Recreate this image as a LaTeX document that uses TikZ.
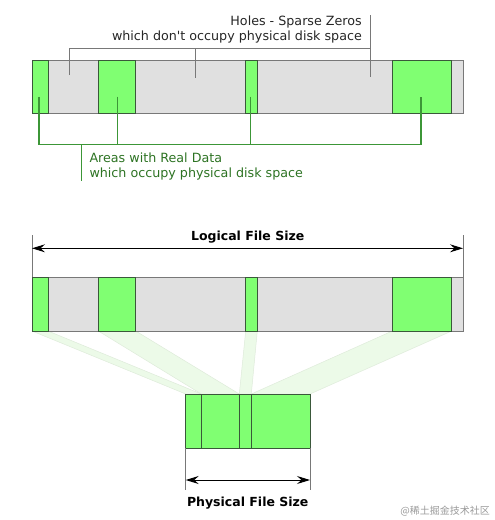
\documentclass[tikz,border=0pt]{standalone}
\usepackage{fontspec}
\setmainfont{DejaVu Sans}[Ligatures=TeXOff]
\newfontfamily\cjk{Noto Sans CJK SC}
\usetikzlibrary{arrows.meta}

\definecolor{datagreen}{RGB}{128,255,114}
\definecolor{holegray}{RGB}{224,224,224}
\definecolor{edgegray}{RGB}{120,120,120}
\definecolor{bracketgreen}{RGB}{60,150,55}
\definecolor{textgreen}{RGB}{45,115,35}
\definecolor{shadegreen}{RGB}{236,250,232}

\begin{document}
\begin{tikzpicture}[x=1pt,y=-1pt,line join=miter,
  datablock/.style={fill=datagreen,draw=edgegray!80!green!60!black,line width=0.8pt},
  holebar/.style={fill=holegray,draw=edgegray,line width=0.8pt},
  sizearrow/.style={{Stealth[length=13pt,width=8pt,inset=4.5pt]}-{Stealth[length=13pt,width=8pt,inset=4.5pt]},line width=1pt},
  extline/.style={draw=edgegray,line width=0.9pt}]
\useasboundingbox (0,0) rectangle (495,520);

% 两条横条的位置
\def\bl{32}   \def\br{463}
\def\ta{60}   \def\tb{113}   % 上横条
\def\ma{277}  \def\mb{331}   % 下横条
\def\pa{394}  \def\pb{448}   % 物理块

% 投影（淡绿色梯形，先画在下面）
\foreach \xa/\xb/\ya/\yb in {32/48/185.7/201.3, 98.3/135.7/201.3/239.3,
                             245.7/257.3/239.3/251.3, 392.3/451.7/251.3/310}
  \fill[shadegreen,draw=shadegreen!85!black!40!shadegreen,line width=0.5pt]
    (\xa,\mb) -- (\xb,\mb) -- (\yb,\pa) -- (\ya,\pa) -- cycle;

% 上、下两条横条
\foreach \ya/\yb in {\ta/\tb, \ma/\mb}{
  \draw[holebar] (\bl,\ya) rectangle (\br,\yb);
  \foreach \xa/\xb in {32/48, 98.3/135.7, 245.7/257.3, 392.3/451.7}
    \draw[datablock] (\xa,\ya) rectangle (\xb,\yb);
}

% 物理块
\foreach \xa/\xb in {185.7/201.3, 201.3/239.3, 239.3/251.3, 251.3/310}
  \draw[datablock] (\xa,\pa) rectangle (\xb,\pb);

% 空洞标注（灰色括线）
\node[anchor=east,align=right,font=\fontsize{12.7}{15.6}\selectfont,text=black!85,inner sep=0pt]
  (holes) at (362,29.5) {Holes - Sparse Zeros\\which don't occupy physical disk space};
\coordinate (htop) at (370,15);
\draw[edgegray,line width=0.8pt] (69,75) -- (69,48.3) -- (370,48.3) -- (370,77);
\draw[edgegray,line width=0.8pt] (195,48.3) -- (195,78);
\draw[edgegray,line width=0.8pt] (370,48.3) -- (htop);

% 数据标注（绿色括线）
\draw[bracketgreen,line width=1.4pt] (39,96.7) -- (39,144.3) -- (421,144.3) -- (421,96.7);
\draw[bracketgreen,line width=1.4pt] (117.3,96.7) -- (117.3,144.3);
\draw[bracketgreen,line width=1.4pt] (250.7,96.7) -- (250.7,144.3);
\coordinate (abot) at (81.7,181);
\draw[bracketgreen,line width=1.4pt] (81.7,144.3) -- (abot);
\node[anchor=west,align=left,font=\fontsize{12.7}{15.6}\selectfont,text=textgreen,inner sep=0pt]
  (areas) at (89.3,166.3) {Areas with Real Data\\which occupy physical disk space};

% 逻辑大小
\coordinate (l1) at (\bl,235); \coordinate (l2) at (\br,235);
\draw[extline] (l1) -- (\bl,\ma);
\draw[extline] (l2) -- (\br,\ma);
\draw[sizearrow] (\bl,248.3) -- (\br,248.3);
\node[font=\bfseries\fontsize{12.5}{14}\selectfont,inner sep=0pt] (logical) at (247.7,237.3) {Logical File Size};

% 物理大小
\coordinate (p1) at (185.7,490); \coordinate (p2) at (310,490);
\draw[extline] (185.7,\pb) -- (p1);
\draw[extline] (310,\pb) -- (p2);
\draw[sizearrow] (185.7,480) -- (310,480);
\node[font=\bfseries\fontsize{12.5}{14}\selectfont,inner sep=0pt] (physical) at (247.7,502.7) {Physical File Size};

% 水印
\node[anchor=east,font=\cjk\fontsize{10}{12}\selectfont,text=black!40,inner sep=0pt]
  (mark) at (490,510.7) {@稀土掘金技术社区};
\end{tikzpicture}
\end{document}
